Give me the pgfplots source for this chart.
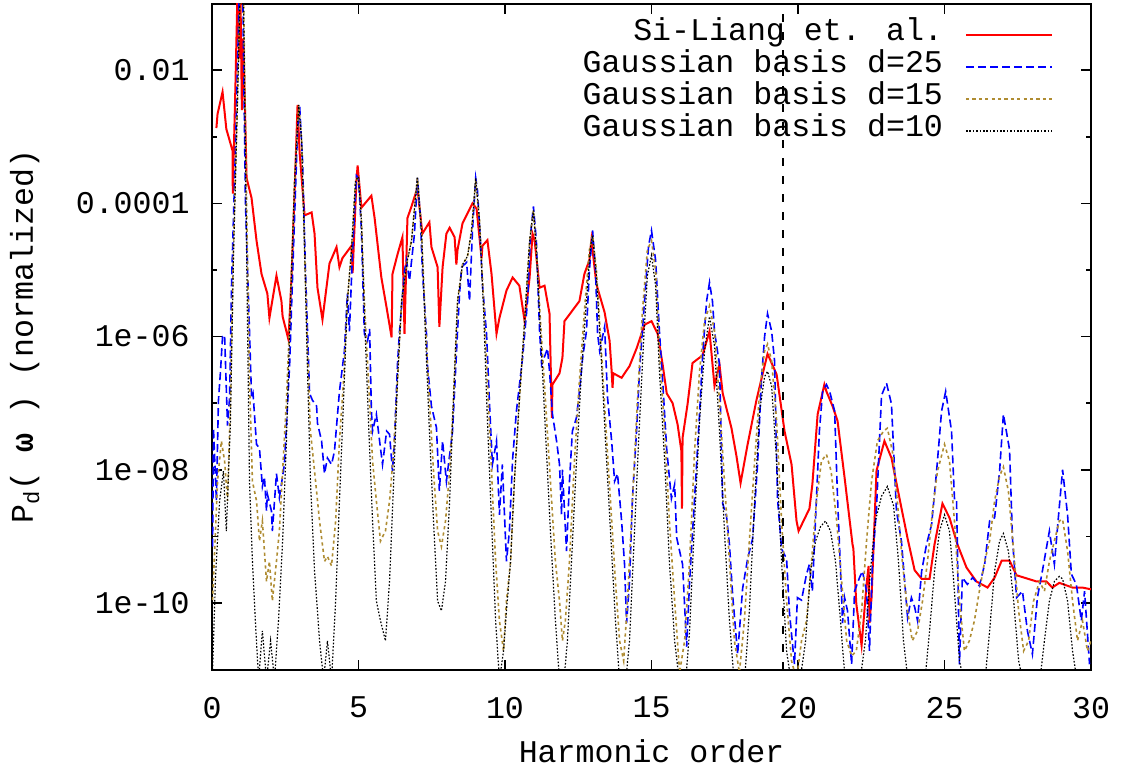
\documentclass[border=0pt]{standalone}
\usepackage{fontspec}
\setmainfont{Liberation Mono}
\setmonofont{Liberation Mono}
\usepackage{pgfplots}
\pgfplotsset{compat=1.18}
\definecolor{gold}{RGB}{175,140,50}
\newcommand{\FS}{\fontsize{15.8pt}{19pt}\selectfont}

\pgfplotstableread{
x y
0.15 1.35e-3
0.19 2.2e-3
0.36 4.7e-3
0.49 1.3e-3
0.70 6.2e-4
0.71 1.4e-4
0.80 5.9e-3
0.87 0.15
0.93 1.5e-2
0.97 0.15
1.02 2.5e-3
1.07 3e-2
1.18 2.4e-4
1.35 1.2e-4
1.52 2.75e-5
1.69 8.7e-6
1.89 4.4e-6
1.96 1.9e-6
2.20 8.2e-6
2.37 3.4e-6
2.41 2e-6
2.61 9e-7
2.71 7e-6
2.82 1.5e-4
2.92 3e-3
2.99 5.8e-4
3.16 6.6e-5
3.40 7.3e-5
3.50 3.5e-5
3.60 5.4e-6
3.77 1.8e-6
4.01 1.25e-5
4.25 2.2e-5
4.35 1.1e-5
4.45 1.5e-5
4.76 2.3e-5
4.80 9e-6
4.93 2.2e-4
4.97 3.7e-4
5.10 8.6e-5
5.44 1.3e-4
5.55 6e-5
5.78 7.7e-6
5.96 2.7e-6
6.13 9.7e-7
6.16 8.7e-6
6.33 1.7e-5
6.50 3.1e-5
6.57 1.1e-6
6.67 6e-5
6.81 9e-5
7.01 1.7e-4
7.18 3.5e-5
7.42 5.2e-5
7.49 2.2e-5
7.70 1.1e-5
7.76 1.4e-6
7.87 1.1e-5
8.00 3.5e-5
8.11 4.3e-5
8.28 3.1e-5
8.34 1.2e-5
8.38 2e-5
8.55 5e-5
8.89 1e-4
9.03 8.3e-5
9.20 1.5e-5
9.23 2.3e-5
9.40 2.8e-5
9.54 8.7e-6
9.71 1.1e-6
9.81 1.9e-6
10.05 4.9e-6
10.26 7.7e-6
10.49 5.8e-6
10.67 1.7e-6
10.84 7.7e-6
10.94 3.5e-5
11.01 2.8e-5
11.18 5.4e-6
11.35 5.8e-6
11.52 2.2e-6
11.60 6e-8
11.62 1.9e-7
11.86 2.8e-7
11.96 4.8e-7
12.03 1.7e-6
12.54 3.4e-6
12.71 8.7e-6
12.88 1.4e-5
12.95 2.8e-5
13.12 6.1e-6
13.40 2.3e-6
13.57 8.6e-7
13.64 3e-7
13.67 1.7e-7
13.70 2.8e-7
13.98 2.4e-7
14.25 3.6e-7
14.49 6.6e-7
14.76 1.5e-6
15.00 1.7e-6
15.21 1.1e-6
15.38 3.8e-7
15.52 1.4e-7
15.72 1e-7
15.89 4.8e-8
16.02 1.9e-8
16.04 2.6e-9
16.06 3e-8
16.23 9.6e-8
16.40 4e-7
16.74 5.2e-7
16.98 1.2e-6
17.15 1.8e-7
17.32 3.8e-7
17.43 1.4e-7
17.73 4.2e-8
17.90 1.6e-8
18.04 6.3e-9
18.28 2.4e-8
18.58 1.1e-7
18.79 2.7e-7
18.96 5.5e-7
19.27 2.7e-7
19.54 3.8e-8
19.78 1.2e-8
19.95 1.7e-9
20.02 1.2e-9
20.39 2.6e-9
20.49 6e-9
20.67 6.8e-8
20.90 1.9e-7
20.97 1.5e-7
21.18 9e-8
21.35 5.4e-8
21.59 7.6e-9
21.86 7.6e-10
21.89 6.5e-10
21.99 9.7e-11
22.17 2.3e-11
22.34 1.9e-10
22.41 3.6e-10
22.44 5e-11
22.51 1.2e-10
22.68 9.7e-9
22.95 2.7e-8
23.19 1.5e-8
23.46 3.8e-9
23.74 9.3e-10
23.98 3.1e-10
24.22 2.3e-10
24.49 2.3e-10
24.66 7.6e-10
24.93 3.1e-9
25.17 1.9e-9
25.44 7.6e-10
25.75 3.4e-10
26.09 2.1e-10
26.47 1.7e-10
26.71 2.4e-10
26.95 4.3e-10
27.22 4.3e-10
27.46 2.6e-10
28.14 2.1e-10
28.48 2.1e-10
28.68 1.7e-10
28.92 2e-10
29.37 1.7e-10
29.71 1.7e-10
30.00 1.6e-10
}\siliang

\pgfplotstableread{
x y
0.02 7e-10
0.05 4.2e-8
0.15 3.4e-9
0.22 1.1e-7
0.29 3e-7
0.36 1e-6
0.43 1.05e-6
0.53 4.6e-8
0.60 1.2e-7
0.67 6.9e-6
0.80 6.2e-4
0.94 0.2
1.04 0.3
1.14 1.1e-4
1.28 1.2e-6
1.35 1.2e-7
1.40 1.4e-7
1.52 2.4e-8
1.62 2.1e-8
1.72 5.6e-9
1.79 7.8e-9
1.86 2.4e-9
1.89 4.3e-9
2.03 2.4e-9
2.06 1.2e-9
2.20 8.7e-9
2.30 3.8e-9
2.47 1.2e-8
2.65 3.8e-7
2.78 2e-5
2.92 1.25e-3
2.99 3e-3
3.09 4.4e-4
3.19 9.8e-6
3.26 1.2e-6
3.33 1.4e-7
3.43 1.1e-7
3.57 9e-8
3.60 5e-8
3.74 2.7e-8
3.84 8.7e-9
3.94 1.5e-8
4.08 1.2e-8
4.18 1.9e-8
4.35 1.5e-7
4.52 6.1e-7
4.62 4.4e-6
4.69 1.2e-6
4.80 2e-5
4.93 2.6e-4
5.00 2.4e-4
5.10 3.9e-5
5.20 1.1e-6
5.31 8.6e-7
5.38 1.3e-6
5.44 7.6e-8
5.48 3.8e-8
5.61 6.8e-8
5.72 2.7e-8
5.82 1.2e-8
5.96 3.8e-8
6.06 3.4e-8
6.16 9.5e-9
6.23 3e-8
6.33 3.8e-7
6.40 1.2e-6
6.57 9.8e-6
6.64 1.4e-5
6.74 6.9e-6
6.91 3.5e-5
7.01 2.4e-4
7.11 6.6e-5
7.18 9.8e-6
7.32 1.1e-6
7.35 3.8e-7
7.49 9e-8
7.66 4.3e-8
7.76 4.8e-9
7.87 2.7e-8
8.00 6.7e-9
8.21 3.8e-8
8.38 1.2e-6
8.45 4.4e-6
8.52 1.1e-5
8.69 1.3e-5
8.79 3.4e-6
8.89 3.9e-5
9.00 2.4e-4
9.06 1.56e-4
9.16 2.75e-5
9.23 6.1e-6
9.37 1.1e-6
9.47 1e-7
9.57 1.2e-8
9.71 2.7e-8
9.81 2.1e-9
9.91 1.2e-8
10.05 4.2e-10
10.15 1.2e-9
10.26 1.45e-8
10.39 7.6e-8
10.60 4.8e-7
10.77 3.4e-6
10.87 3.3e-5
10.97 9e-5
11.07 2.75e-5
11.18 1.2e-6
11.25 3.8e-7
11.45 6.6e-7
11.52 3e-7
11.62 6.8e-8
11.76 2.7e-8
11.86 1.2e-8
11.93 2.1e-9
11.96 1e-8
12.10 6e-10
12.20 6.7e-9
12.30 3.8e-8
12.44 6.1e-8
12.54 1.5e-7
12.65 4.8e-7
12.78 1.2e-6
12.88 9.8e-6
12.99 3.9e-5
13.09 9.8e-6
13.16 1.1e-6
13.23 6.1e-7
13.40 1.4e-6
13.50 1.2e-7
13.64 2.7e-8
13.74 6.7e-9
13.84 8.7e-9
13.98 1.7e-9
14.08 3.8e-10
14.15 5e-11
14.25 2.1e-10
14.35 3.7e-9
14.49 3.8e-8
14.59 3e-7
14.76 3.4e-6
14.90 2.3e-5
15.00 3.9e-5
15.14 1.4e-5
15.27 1.2e-6
15.38 2.15e-7
15.52 2e-8
15.68 3.7e-9
15.79 6e-9
15.86 9.5e-10
16.06 3.8e-10
16.20 2.2e-11
16.30 2.1e-10
16.47 3.7e-9
16.64 7e-8
16.74 4.8e-7
16.88 3.4e-6
16.98 6.5e-6
17.08 3.4e-6
17.15 1.2e-6
17.32 3.8e-7
17.43 3.1e-9
17.56 2e-9
17.66 7.6e-10
17.77 1.3e-10
17.94 1.7e-11
18.11 1.65e-10
18.28 4.6e-10
18.45 9.2e-10
18.62 1.2e-8
18.75 2.15e-7
18.86 1e-6
18.96 2.2e-6
19.10 1.2e-6
19.20 4.3e-7
19.30 3.7e-9
19.44 6.5e-10
19.61 4.6e-10
19.71 7e-11
19.88 1.2e-11
19.98 1.2e-10
20.12 1.1e-10
20.29 2.7e-10
20.39 3.8e-10
20.49 1.5e-10
20.63 3.7e-9
20.73 3.8e-8
20.84 1.5e-7
20.97 1.9e-7
21.08 1.5e-7
21.25 7.6e-8
21.35 3.7e-9
21.49 1.2e-10
21.52 5e-11
21.59 1.2e-10
21.69 7.6e-11
21.83 1.2e-11
21.93 1.5e-10
22.10 2.4e-10
22.20 3e-10
22.34 1.5e-10
22.44 1.9e-11
22.54 3.8e-10
22.68 2.7e-9
22.85 1.3e-7
23.02 2e-7
23.19 9.7e-8
23.36 2.4e-9
23.53 8.5e-10
23.63 2.4e-10
23.74 6e-11
23.87 1.2e-10
23.98 8.7e-11
24.08 5.4e-11
24.22 3e-10
24.39 7.7e-10
24.56 1.5e-9
24.73 9.5e-9
24.90 7.6e-8
25.04 1.5e-7
25.24 3.8e-8
25.34 3.7e-9
25.41 3.7e-9
25.51 1.2e-11
25.61 2.4e-10
25.78 1.9e-10
25.96 2.4e-10
26.19 1.8e-10
26.37 3.8e-10
26.54 1.7e-9
26.71 1.9e-9
26.88 9.5e-9
27.01 6.8e-8
27.22 2e-8
27.32 9.3e-10
27.46 1.2e-10
27.66 1.5e-10
27.83 3.8e-11
28.00 1.7e-11
28.17 1.2e-10
28.34 3e-10
28.58 1.2e-9
28.75 3.8e-10
28.89 2e-9
29.03 1e-8
29.20 2.1e-9
29.33 2.7e-10
29.50 1.9e-10
29.67 5.4e-11
29.78 1.5e-10
29.95 1.2e-11
}\gtwentyfive

\pgfplotstableread{
x y
0.02 1.1e-10
0.19 6.7e-9
0.32 2.7e-8
0.43 1.35e-8
0.53 3.4e-9
0.63 1.1e-7
0.73 2e-5
0.87 3.5e-3
0.97 0.2
1.07 0.2
1.18 1.1e-4
1.28 2.15e-7
1.38 6.7e-9
1.52 3.4e-9
1.62 8.5e-10
1.72 1.7e-9
1.86 2.1e-10
1.96 4.2e-10
2.06 1.07e-10
2.20 4.2e-10
2.30 1.2e-9
2.41 9.5e-9
2.54 1.1e-7
2.68 3.4e-6
2.82 2.2e-4
2.96 3e-3
3.06 8.8e-4
3.16 2e-5
3.26 6.1e-7
3.36 3.8e-8
3.50 9.5e-9
3.67 1.7e-9
3.84 4.2e-10
3.94 5e-10
4.08 3.6e-10
4.22 1.7e-9
4.35 2.7e-8
4.49 2.15e-7
4.62 3.4e-6
4.76 2e-5
4.90 2.2e-4
5.00 2.4e-4
5.10 5.5e-5
5.20 3.4e-6
5.34 2.15e-7
5.48 1.35e-8
5.61 3.4e-9
5.75 8.5e-10
5.92 1.2e-9
6.06 3.4e-9
6.20 1.9e-8
6.33 2.15e-7
6.47 3.4e-6
6.67 1.4e-5
6.81 2.75e-5
7.01 2.4e-4
7.15 3.9e-5
7.28 1.7e-6
7.42 1.1e-7
7.56 9.5e-9
7.70 1.2e-9
7.83 7e-10
7.97 1.7e-9
8.11 9.5e-9
8.24 1.1e-7
8.38 3.4e-6
8.55 1.2e-5
8.72 1.6e-5
8.86 3.9e-5
9.00 2.2e-4
9.13 5.5e-5
9.27 3.4e-6
9.40 2.15e-7
9.54 9.5e-9
9.68 4.2e-10
9.81 5.4e-11
9.95 1.9e-11
10.05 1.07e-10
10.19 4.2e-10
10.32 6.7e-9
10.49 1.1e-7
10.67 1.7e-6
10.84 2.75e-5
10.97 7.8e-5
11.07 2e-5
11.21 1.7e-6
11.38 1.1e-7
11.55 6.7e-9
11.72 4.2e-10
11.86 1.07e-10
11.96 2.7e-11
12.06 5.4e-11
12.20 4.2e-10
12.37 1.35e-8
12.54 2.15e-7
12.71 2.4e-6
12.88 2e-5
12.99 3.3e-5
13.12 9.8e-6
13.29 6.1e-7
13.43 5.4e-8
13.60 3.4e-9
13.77 2.1e-10
13.91 2.7e-11
14.05 1.35e-11
14.18 1.07e-10
14.35 3.4e-9
14.52 1.1e-7
14.69 2.4e-6
14.86 2e-5
15.00 2.75e-5
15.14 9.8e-6
15.27 6.1e-7
15.45 3.8e-8
15.61 1.7e-9
15.79 1.07e-10
15.96 9e-12
16.13 2.7e-11
16.30 4.2e-10
16.47 1.9e-8
16.64 3e-7
16.81 1.7e-6
16.98 2.9e-6
17.15 1.2e-6
17.32 1.07e-7
17.49 6.7e-9
17.66 4.2e-10
17.83 2.7e-11
18.00 9e-12
18.17 5.4e-11
18.34 8.5e-10
18.52 1.35e-8
18.69 1.5e-7
18.86 6.1e-7
18.96 7.7e-7
19.10 4.3e-7
19.27 5.4e-8
19.44 1.7e-9
19.61 1.07e-10
19.78 1.35e-11
19.95 7e-12
20.12 2.7e-11
20.29 5.4e-11
20.46 4.2e-10
20.63 3.4e-9
20.80 1.35e-8
20.97 1.7e-8
21.13 9.5e-9
21.32 1.7e-9
21.49 2.1e-10
21.66 2.7e-11
21.83 1.6e-11
21.99 1.9e-11
22.17 7.6e-11
22.34 8.5e-10
22.51 6.7e-9
22.71 2.7e-8
22.92 3.8e-8
23.05 4.2e-8
23.22 1.9e-8
23.39 3.4e-9
23.56 4.2e-10
23.74 7.6e-11
23.90 2.7e-11
24.08 3.8e-11
24.25 1.07e-10
24.42 4.2e-10
24.59 2.4e-9
24.76 9.5e-9
25.00 2.4e-8
25.17 1.35e-8
25.34 1.7e-9
25.51 1.07e-10
25.68 1.9e-11
25.85 2.7e-11
26.02 5.4e-11
26.19 1.5e-10
26.37 4.2e-10
26.54 8.5e-10
26.71 3.4e-9
26.88 8e-9
27.01 1.1e-8
27.18 4.8e-9
27.36 6e-10
27.53 7.6e-11
27.70 1.9e-11
27.87 2.7e-11
28.04 1.07e-10
28.24 2.1e-10
28.41 1.5e-10
28.58 4.2e-10
28.75 8.5e-10
28.92 1.7e-9
29.03 1.8e-9
29.20 6e-10
29.37 1.07e-10
29.54 2.7e-11
29.71 5.4e-11
29.88 1.9e-11
30.00 2.7e-11
}\gfifteen

\pgfplotstableread{
x y
0.02 1e-11
0.12 2.4e-10
0.26 3.4e-9
0.39 9.5e-9
0.49 1.2e-9
0.63 5.4e-8
0.73 1.4e-5
0.87 3.5e-3
0.97 0.2
1.07 0.2
1.18 2e-5
1.28 6.7e-9
1.38 4.2e-10
1.48 5.4e-11
1.59 7e-12
1.72 3.8e-11
1.86 7e-12
2.00 2.7e-11
2.13 7e-12
2.27 5.4e-11
2.41 8.5e-10
2.54 2.7e-8
2.68 3.4e-6
2.82 2.2e-4
2.96 3e-3
3.06 8.8e-4
3.16 2e-5
3.26 3e-7
3.36 6.7e-9
3.50 3e-10
3.67 2.7e-11
3.81 7e-12
3.94 2.7e-11
4.08 7e-12
4.22 1.07e-10
4.35 3.4e-9
4.49 1.1e-7
4.62 3.4e-6
4.76 2e-5
4.90 2.2e-4
5.00 2.5e-4
5.10 5.5e-5
5.20 2.4e-6
5.34 5.4e-8
5.48 1.7e-9
5.61 1.07e-10
5.75 5.4e-11
5.92 2.7e-11
6.06 2.1e-10
6.20 6.7e-9
6.33 2.15e-7
6.47 3.4e-6
6.67 1.4e-5
6.81 2.75e-5
7.01 2.5e-4
7.15 3.9e-5
7.28 1.2e-6
7.42 3.8e-8
7.56 1.7e-9
7.70 1.07e-10
7.83 7.6e-11
7.97 2.1e-10
8.11 3.4e-9
8.24 1.1e-7
8.38 3.4e-6
8.55 1.2e-5
8.72 1.6e-5
8.86 3.9e-5
9.00 2.4e-4
9.13 5.5e-5
9.27 2.4e-6
9.40 5.4e-8
9.54 1.7e-9
9.68 5.4e-11
9.81 7e-12
9.95 1.9e-11
10.05 7.6e-11
10.19 4.2e-10
10.32 6.7e-9
10.49 1.1e-7
10.67 1.7e-6
10.84 2.75e-5
10.97 7.8e-5
11.07 2e-5
11.21 1.2e-6
11.38 3.8e-8
11.55 1.2e-9
11.72 5.4e-11
11.86 7e-12
12.00 6e-12
12.13 2.7e-11
12.27 4.2e-10
12.44 1.35e-8
12.61 3e-7
12.78 3.4e-6
12.92 2.3e-5
12.99 3.3e-5
13.12 8.2e-6
13.29 4.3e-7
13.43 2.7e-8
13.60 1.2e-9
13.77 5.4e-11
13.91 7e-12
14.11 6e-12
14.25 2.7e-11
14.39 6e-10
14.56 2.7e-8
14.73 8.6e-7
14.86 8.2e-6
15.00 1.65e-5
15.14 5.8e-6
15.27 3e-7
15.45 1.35e-8
15.61 4.2e-10
15.79 2.7e-11
15.96 6e-12
16.16 6e-12
16.30 3.8e-11
16.47 1.7e-9
16.64 5.4e-8
16.81 6.1e-7
16.98 2e-6
17.15 7.2e-7
17.32 3.8e-8
17.49 1.2e-9
17.66 5.4e-11
17.83 6e-12
18.17 6e-12
18.34 7.6e-11
18.52 3.4e-9
18.69 7.6e-8
18.86 2.5e-7
18.96 3e-7
19.10 1.8e-7
19.27 1.35e-8
19.44 4.2e-10
19.61 1.9e-11
19.78 6e-12
20.05 6e-12
20.26 2.7e-11
20.43 3e-10
20.60 8.5e-10
20.77 1.4e-9
20.94 1.7e-9
21.11 1.2e-9
21.28 4.2e-10
21.45 5.4e-11
21.62 6e-12
22.10 6e-12
22.30 2.7e-11
22.47 3e-10
22.64 1.7e-9
22.85 4e-9
23.05 5.6e-9
23.26 2.9e-9
23.43 4.2e-10
23.60 2.7e-11
23.77 6e-12
24.32 6e-12
24.49 3.8e-11
24.66 3e-10
24.83 1.2e-9
25.00 2.1e-9
25.17 1.2e-9
25.34 1.5e-10
25.51 1.35e-11
25.68 6e-12
26.37 6e-12
26.54 3.8e-11
26.71 3e-10
26.88 8.5e-10
27.01 1.1e-9
27.18 6e-10
27.36 1.07e-10
27.53 1.35e-11
27.70 6e-12
28.24 6e-12
28.41 2.7e-11
28.58 1.07e-10
28.75 2.1e-10
28.92 2.5e-10
29.03 2.3e-10
29.20 1.07e-10
29.37 1.9e-11
29.54 6e-12
30.00 6e-12
}\gten

\begin{document}
\begin{tikzpicture}
\begin{axis}[
  scale only axis, width=439.5pt, height=333pt,
  xmin=0, xmax=30, ymin=1e-11, ymax=0.1, ymode=log,
  xtick={0,5,...,30}, xticklabels={0,5,10,15,20,25,30},
  ytick={1e-10,1e-8,1e-6,1e-4,1e-2},
  yticklabels={1e-10,1e-08,1e-06,0.0001,0.01},
  minor ytick={1e-11,1e-9,1e-7,1e-5,1e-3},
  tick align=inside, tick pos=both,
  major tick length=5pt, minor tick length=2.5pt,
  axis line style={line width=1pt},
  every tick/.style={line width=0.8pt, black},
  xticklabel style={inner sep=0pt, yshift=-13.5pt, font=\FS},
  yticklabel style={inner sep=0pt, xshift=-11pt, font=\FS},
  xlabel={Harmonic order},
  xlabel style={at={(axis description cs:0.5,0)}, anchor=base, yshift=-46.5pt, inner sep=0pt, font=\FS},
  ylabel={P\textsubscript{d}( \textbf{ω} ) (normalized)},
  ylabel style={at={([xshift=-89.5pt]axis description cs:0,0.5)}, anchor=base, inner sep=0pt, font=\FS},
  legend style={draw=none, fill=none, at={([xshift=-19pt,yshift=-7.7pt]axis description cs:1,1)},
    anchor=north east, inner sep=0pt, outer sep=0pt, font=\FS,
    nodes={inner sep=0pt, text height=11pt, text depth=5pt}, row sep=0pt},
  legend cell align=right, legend plot pos=right,
  legend image code/.code={\path (0pt,0pt); \draw[#1] (11pt,0pt) -- (54pt,0pt);},
]
\addplot[red, line width=1pt] table {\siliang};
\addlegendentry{Si-Liang et. al.}
\addplot[blue, line width=0.8pt, dash pattern=on 4pt off 2pt] table {\gtwentyfive};
\addlegendentry{Gaussian basis d=25}
\addplot[gold, line width=0.8pt, dash pattern=on 1.6pt off 1.6pt] table {\gfifteen};
\addlegendentry{Gaussian basis d=15}
\addplot[black, line width=0.6pt, dash pattern=on 0.8pt off 0.9pt] table {\gten};
\addlegendentry{Gaussian basis d=10}
\addplot[black, line width=0.8pt, dash pattern=on 4pt off 5pt, forget plot] coordinates {(19.48,1e-11) (19.48,0.1)};
\end{axis}
\pgfresetboundingbox
\path[use as bounding box] ([shift={(-106pt,-48.5pt)}]current axis.south west) rectangle ([shift={(19pt,1.75pt)}]current axis.north east);
\end{tikzpicture}
\end{document}
